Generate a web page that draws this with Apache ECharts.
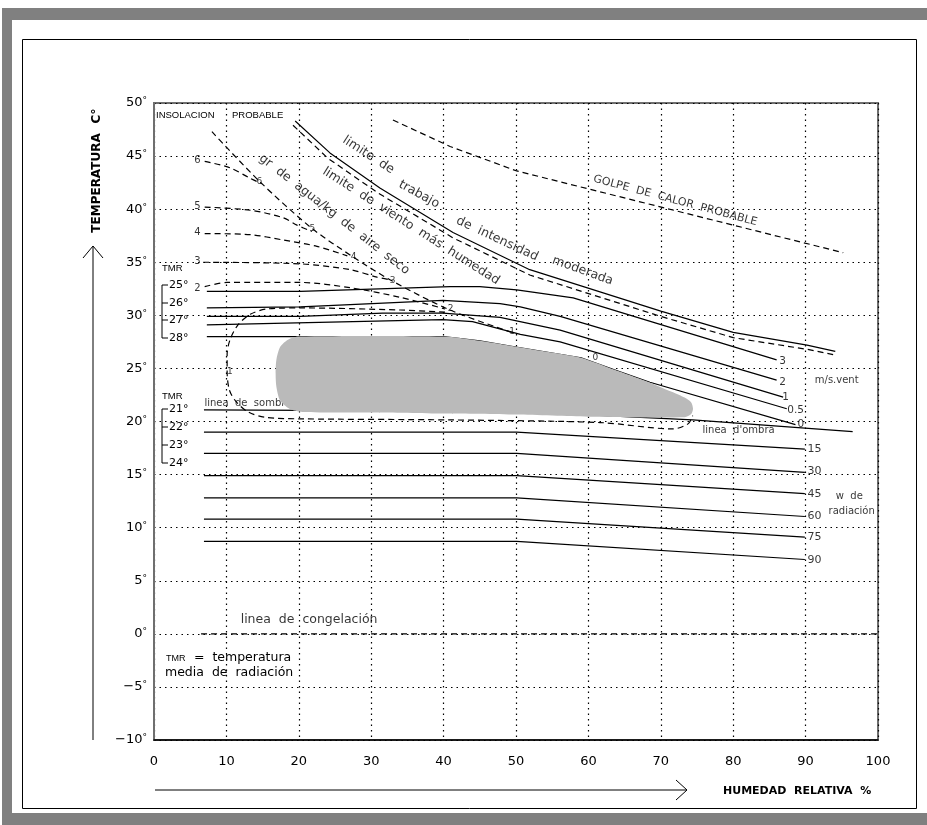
<!DOCTYPE html>
<html><head><meta charset="utf-8">
<script src="https://cdn.jsdelivr.net/npm/echarts/dist/echarts.min.js"></script>
<style>html,body{margin:0;padding:0;background:#fff}#c{width:927px;height:825px}</style>
</head><body><div id="c"></div>
<script>
const FONT = 'DejaVu Sans';

// ---- data (x = humedad relativa %, y = temperatura °C) ----
const limiteTrabajo = [[19.5,48.3],[24.3,45.3],[31.2,42.0],[41.3,37.8],[51.9,34.3],[70,30.4],[80,28.4],[90.2,27.2],[94.1,26.6]];
const limiteViento = [[19.2,47.9],[24.0,44.8],[31.0,41.5],[41.3,37.3],[51.9,33.8],[70,29.9],[80,27.9],[90.2,26.8],[93.8,26.3]];
const golpeCalor = [[33.0,48.4],[40.9,45.9],[50.1,43.6],[95.2,35.9]];

const hum6 = [[7.0,44.5],[10.5,43.9],[13.3,42.9],[14.9,42.4]];
const hum5 = [[7.0,40.2],[13.3,39.9],[17.8,39.2],[19.75,38.5],[21.8,37.9]];
const hum4 = [[7.0,37.7],[13.3,37.6],[17.8,37.1],[22.5,36.5],[26.7,35.6]];
const hum3 = [[6.8,35.0],[20.2,34.85],[27.1,34.3],[30.8,33.6],[32.6,33.35]];
const hum2 = [[7.0,32.7],[10.1,33.1],[20.2,33.1],[27.1,32.6],[34.0,31.7],[40.2,30.6]];
const grDiagonal = [[8.0,47.3],[14.6,42.6],[21.8,38.2],[27.5,35.5],[33.0,33.2],[40.9,30.5],[49.4,28.4]];

const viento3 = [[7.3,32.25],[20.2,32.25],[40.9,32.7],[45,32.7],[50.1,32.4],[57.9,31.65],[86.0,25.8]];
const viento2 = [[7.3,30.7],[20.2,30.8],[27.1,31.0],[39.9,31.4],[47.8,31.1],[50.6,30.8],[56.1,29.9],[86.0,23.9]];
const viento1 = [[7.3,29.9],[20.2,29.9],[31.6,30.2],[39.9,30.2],[47.8,29.8],[56.1,28.6],[86.9,22.3]];
const viento05 = [[7.3,29.1],[39.9,29.6],[44,29.4],[50.6,28.2],[56.1,27.5],[87.4,21.2]];
const viento0 = [[7.3,28.0],[40,28.0],[45,27.6],[50,27.0],[59,26.0],[63.5,24.9],[68.5,23.7],[88.6,19.7]];

const sombra = [[6.9,21.1],[50,20.95],[74.4,20.15],[96.5,19.05]];
const rad15 = [[6.9,19.0],[50.1,19.0],[89.9,17.4]];
const rad30 = [[6.9,17.0],[50.1,17.0],[89.9,15.2]];
const rad45 = [[6.9,14.9],[50.1,14.9],[89.9,13.2]];
const rad60 = [[6.9,12.8],[50.1,12.8],[89.9,11.05]];
const rad75 = [[6.9,10.8],[50.1,10.8],[89.9,9.1]];
const rad90 = [[6.9,8.7],[50.1,8.7],[89.9,7.0]];

const congelacion = [[6.5,0],[100,0]];
const contorno = [[40.2,30.3],[34.0,30.5],[20.2,30.7],[15.6,30.6],[13.3,30.1],[11.6,29.1],[10.5,27.7],[10.1,26.3],[10.1,24.7],[10.4,23.0],[11.3,21.9],[13.0,20.9],[15.3,20.4],[20.2,20.25],[40.9,20.15],[61.6,19.9],[71.7,19.3],[73.8,19.8],[74.4,20.55]];

const zonaConfort = [[20.0,28.0],[40.0,28.0],[45.0,27.6],[50.0,27.05],[55.0,26.5],[59.0,26.0],[63.5,24.9],[68.0,23.8],[71.5,22.8],[73.3,22.25],[74.2,21.8],[74.45,21.2],[74.2,20.7],[73.3,20.4],[60.0,20.45],[50.0,20.65],[40.0,20.75],[30.0,20.85],[20.5,20.9],[18.7,21.2],[17.4,22.0],[16.9,23.3],[16.8,24.5],[16.9,25.8],[17.4,27.0],[18.5,27.7]];

// labels: [text, x, y, rotation]
const vientoLabels = [['3',86.3,25.7],['2',86.3,23.7],['1',86.7,22.3],['0.5',87.4,21.1],['0',88.8,19.7]];
const radLabels = [['15',90.2,17.35],['30',90.2,15.3],['45',90.2,13.2],['60',90.2,11.05],['75',90.2,9.1],['90',90.2,6.9]];
const humLeftLabels = [['6',5.5,44.6],['5',5.5,40.3],['4',5.5,37.8],['3',5.5,35.1],['2',5.5,32.5]];
const humDiagLabels = [['6',14.1,42.6],['5',21.4,38.15],['4',27.1,35.5],['3',32.5,33.25],['2',40.5,30.6],['1',49.0,28.5],['0',60.5,26.0],['1',10.0,24.7]];
const smallNotes = [['m/s.vent',91.2,23.85],['w  de',94.1,12.9],['radiación',93.1,11.5],["linea  d'ombra",75.7,19.2]];
const bigNotes = [['linea  de  congelación',11.9,1.3]];
const sombraNote = [['linea  de  sombra',6.9,21.7]];
const rotNotes = [
  ['gr  de  agua/kg  de  aire  seco',24.9,39.5,-38],
  ['limite  de',29.6,45.1,-33],
  ['trabajo',36.6,41.4,-29],
  ['de  intensidad',47.4,37.2,-25],
  ['moderada',59.2,34.2,-20],
  ['limite  de  viento  más  humedad',35.5,38.4,-32.5]
];
const golpeNote = [['GOLPE  DE  CALOR  PROBABLE',72.0,40.8,-15]];

// ---- helpers ----
function line(name, data, opts) {
  opts = opts || {};
  return {
    type:'line', name, data, showSymbol:false, symbol:'none', silent:true,
    smooth: opts.smooth || false, z: opts.z || 3,
    lineStyle:{color:'#000', width: opts.width || 1.2, type: opts.dashed ? [6,4] : 'solid'}
  };
}
function textSeries(items, o) {
  return {
    type:'scatter', symbolSize:1, silent:true, z: o.z || 6,
    itemStyle:{color:'rgba(0,0,0,0)'},
    data: items.map(it => ({value:[it[1], it[2]], name: it[0], label:{rotate: it[3] || 0}})),
    label:{show:true, position:o.pos || 'right', distance:0, formatter:'{b}',
      fontSize:o.size || 10, color:'#000', fontFamily:o.font || FONT, fontWeight:o.weight || 'normal'}
  };
}

const series = [
  line('limiteTrabajo', limiteTrabajo),
  line('limiteViento', limiteViento, {dashed:true}),
  line('golpe', golpeCalor, {dashed:true}),
  line('h6', hum6, {dashed:true, smooth:0.3}),
  line('h5', hum5, {dashed:true, smooth:0.3}),
  line('h4', hum4, {dashed:true, smooth:0.3}),
  line('h3', hum3, {dashed:true, smooth:0.3}),
  line('h2', hum2, {dashed:true, smooth:0.3}),
  line('diag', grDiagonal, {dashed:true, smooth:0.3}),
  line('v3', viento3), line('v2', viento2), line('v1', viento1), line('v05', viento05), line('v0', viento0),
  line('sombra', sombra),
  line('r15', rad15), line('r30', rad30), line('r45', rad45), line('r60', rad60), line('r75', rad75), line('r90', rad90),
  line('congelacion', congelacion, {dashed:true}),
  line('contorno', contorno, {dashed:true, smooth:0.3}),
  {
    type:'custom', silent:true, z:5, data:[[0,0]],
    renderItem: function(params, api) {
      return {type:'polygon', shape:{points: zonaConfort.map(p => api.coord(p)), smooth:0.25},
        style:{fill:'#bababa', stroke:null}};
    }
  },
  textSeries(sombraNote, {size:10, z:1}),
  textSeries(vientoLabels, {size:10.5}),
  textSeries(radLabels, {size:11}),
  textSeries(humLeftLabels, {size:10}),
  textSeries(humDiagLabels, {size:9}),
  textSeries(smallNotes, {size:10}),
  textSeries(bigNotes, {size:12.5}),
  textSeries(rotNotes, {size:12.5, pos:'inside'}),
  textSeries(golpeNote, {size:11, pos:'inside'})
];

function txt(t, x, y, o) {
  o = o || {};
  return {type:'text', x, y, rotation: o.rot || 0, z: 10,
    style:{text:t, fontSize:o.size || 11, fontFamily:o.font || FONT, fontWeight:o.weight || 'normal',
      fill:'#000', align:o.align || 'left', verticalAlign:'middle'}};
}
function pl(points, w, color) {
  return {type:'polyline', z:10, shape:{points}, style:{stroke:color || '#000', lineWidth:w || 1, fill:null}};
}

const graphic = [
  {type:'rect', z:1, shape:{x:2,y:8,width:925,height:12}, style:{fill:'#808080'}},
  {type:'rect', z:1, shape:{x:2,y:8,width:10,height:817}, style:{fill:'#808080'}},
  {type:'rect', z:1, shape:{x:2,y:813,width:925,height:12}, style:{fill:'#808080'}},
  {type:'rect', z:1, shape:{x:22.5,y:39.5,width:894,height:769}, style:{fill:null, stroke:'#000', lineWidth:1}},
  // axis arrows
  pl([[93,740],[93,246]], 1), pl([[83,258],[93,246],[103,258]], 1),
  pl([[155,790],[687,790]], 1), pl([[676,780],[687,790],[676,800]], 1),
  txt('TEMPERATURA', 97, 183, {rot:Math.PI/2, size:12, weight:'bold', align:'center'}),
  txt('C°', 97, 116, {rot:Math.PI/2, size:12, weight:'bold', align:'center'}),
  txt('HUMEDAD  RELATIVA  %', 723, 791, {size:11, weight:'bold'}),
  txt('INSOLACION', 156, 115, {size:9.5, font:'Liberation Sans'}),
  txt('PROBABLE', 232, 115, {size:9.5, font:'Liberation Sans'}),
  // TMR legends
  txt('TMR', 162, 268, {size:9.5, font:'Liberation Sans'}),
  pl([[168,285],[162,285],[162,338],[168,338]], 1),
  pl([[162,303],[168,303]], 1), pl([[162,320],[168,320]], 1),
  txt('25°', 169, 285, {size:11}), txt('26°', 169, 303, {size:11}),
  txt('27°', 169, 320, {size:11}), txt('28°', 169, 338, {size:11}),
  txt('TMR', 162, 396, {size:9.5, font:'Liberation Sans'}),
  pl([[168,409],[162,409],[162,463],[168,463]], 1),
  pl([[162,427],[168,427]], 1), pl([[162,445],[168,445]], 1),
  txt('21°', 169, 409, {size:11}), txt('22°', 169, 427, {size:11}),
  txt('23°', 169, 445, {size:11}), txt('24°', 169, 463, {size:11}),
  txt('TMR', 166, 659, {size:9, font:'Liberation Sans'}),
  txt('=  temperatura', 194, 658, {size:12.5}),
  txt('media  de  radiación', 165, 673, {size:12.5})
];

const chart = echarts.init(document.getElementById('c'), null, {renderer:'canvas'});
chart.setOption({
  animation:false,
  backgroundColor:'#fff',
  textStyle:{fontFamily:FONT},
  grid:{left:154, right:49, top:103, bottom:85, show:true, borderColor:'#6f6f6f', borderWidth:2},
  xAxis:{type:'value', min:0, max:100, interval:10,
    axisLine:{show:true, onZero:false, lineStyle:{color:'#000', width:1.5}},
    axisTick:{show:false},
    axisLabel:{margin:15, fontSize:13, color:'#000', fontFamily:FONT},
    splitLine:{show:true, lineStyle:{color:'#000', type:[1.5,4], width:1.2}}},
  yAxis:{type:'value', min:-10, max:50, interval:5,
    axisLine:{show:true, onZero:false, lineStyle:{color:'#6f6f6f', width:2}},
    axisTick:{show:false},
    axisLabel:{margin:7, formatter: v => '{n|' + (v < 0 ? '−' + (-v) : v) + '}{d|°}',
      rich:{n:{fontSize:13, color:'#000', fontFamily:FONT}, d:{fontSize:9, color:'#000', fontFamily:FONT, verticalAlign:'top'}}},
    splitLine:{show:true, lineStyle:{color:'#000', type:[1.5,4], width:1.2}}},
  graphic: graphic,
  series: series
});
</script></body></html>
